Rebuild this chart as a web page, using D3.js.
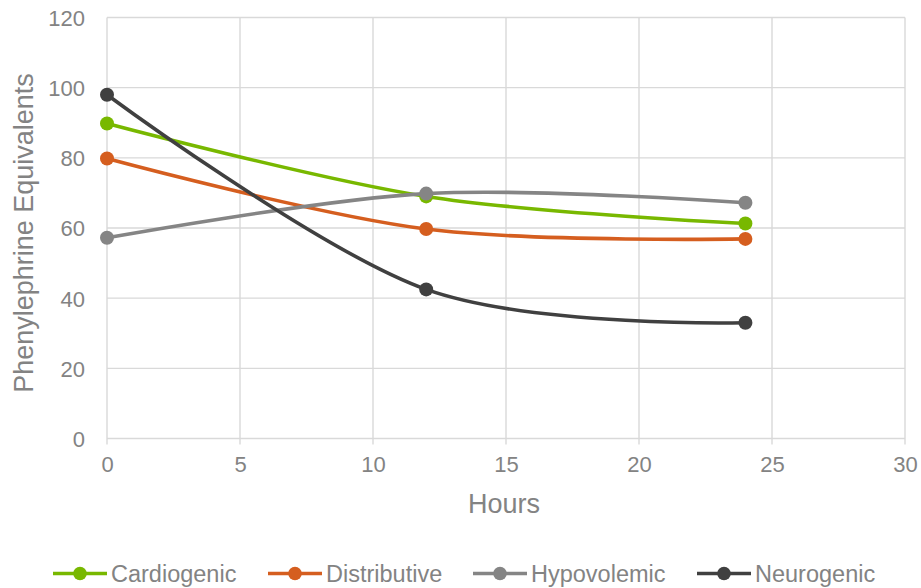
<!DOCTYPE html>
<html>
<head>
<meta charset="utf-8">
<script src="https://cdn.jsdelivr.net/npm/d3@7"></script>
<style>
  html, body { margin: 0; padding: 0; background: #fff; }
  svg { display: block; font-family: "Liberation Sans", Arial, sans-serif; }
</style>
</head>
<body>
<svg id="chart" width="921" height="588"></svg>
<script>
// Vasopressor requirement by shock type over time
const hours = [0, 12, 24];
const cardiogenic = [89.8, 69.0, 61.3];
const distributive = [79.8, 59.7, 56.9];
const hypovolemic = [57.2, 69.8, 67.2];
const neurogenic = [98.0, 42.5, 33.0];

const seriesNames = ["Cardiogenic", "Distributive", "Hypovolemic", "Neurogenic"];
const seriesValues = [cardiogenic, distributive, hypovolemic, neurogenic];
const seriesColors = ["#78b800", "#d55e1f", "#858585", "#404040"];

const xTicks = [0, 5, 10, 15, 20, 25, 30];
const yTicks = [0, 20, 40, 60, 80, 100, 120];

const svg = d3.select("#chart");
const plotLeft = 107, plotRight = 905, plotTop = 17.5, plotBottom = 438.5;

const x = d3.scaleLinear().domain([0, 30]).range([plotLeft, plotRight]);
const y = d3.scaleLinear().domain([0, 120]).range([plotBottom, plotTop]);

const gridColor = "#d9d9d9";
const textColor = "#838383";

// gridlines
svg.append("g").selectAll("line").data(yTicks).join("line")
  .attr("x1", plotLeft).attr("x2", plotRight)
  .attr("y1", d => y(d)).attr("y2", d => y(d))
  .attr("stroke", gridColor).attr("stroke-width", 1.4);
svg.append("g").selectAll("line").data(xTicks).join("line")
  .attr("x1", d => x(d)).attr("x2", d => x(d))
  .attr("y1", plotTop).attr("y2", plotBottom + 6)
  .attr("stroke", gridColor).attr("stroke-width", 1.4);

// axes with labels
const yAxis = svg.append("g").attr("transform", `translate(${plotLeft},0)`)
  .call(d3.axisLeft(y).tickValues(yTicks).tickSize(0).tickPadding(22));
const xAxis = svg.append("g").attr("transform", `translate(0,${plotBottom})`)
  .call(d3.axisBottom(x).tickValues(xTicks).tickSize(0).tickPadding(18));
[yAxis, xAxis].forEach(a => {
  a.select(".domain").remove();
  a.selectAll("text").attr("fill", textColor)
    .style("font-size", "22px").style("font-family", "Liberation Sans, Arial, sans-serif");
});
yAxis.selectAll("text").attr("dy", "0.36em");
xAxis.selectAll("text").attr("dy", "0.71em");

// axis titles
svg.append("text")
  .attr("x", 504).attr("y", 513)
  .attr("text-anchor", "middle")
  .attr("fill", textColor).style("font-size", "27px")
  .text("Hours");
svg.append("text")
  .attr("transform", `translate(33,233) rotate(-90)`)
  .attr("text-anchor", "middle")
  .attr("fill", textColor).style("font-size", "27px")
  .text("Phenylephrine Equivalents");

// smoothed lines and markers
const line = d3.line()
  .x((d, i) => x(hours[i]))
  .y(d => y(d))
  .curve(d3.curveCatmullRom.alpha(0));

seriesValues.forEach((vals, k) => {
  const g = svg.append("g");
  g.append("path").datum(vals)
    .attr("d", line)
    .attr("fill", "none")
    .attr("stroke", seriesColors[k])
    .attr("stroke-width", 3.6)
    .attr("stroke-linecap", "round");
  g.selectAll("circle").data(vals).join("circle")
    .attr("cx", (d, i) => x(hours[i]))
    .attr("cy", d => y(d))
    .attr("r", 7)
    .attr("fill", seriesColors[k]);
});

// legend
const legendX = [53, 268, 473, 697];
const legend = svg.append("g");
seriesNames.forEach((name, k) => {
  const lx = legendX[k], ly = 573.5;
  legend.append("line")
    .attr("x1", lx).attr("x2", lx + 54)
    .attr("y1", ly).attr("y2", ly)
    .attr("stroke", seriesColors[k]).attr("stroke-width", 3.6);
  legend.append("circle")
    .attr("cx", lx + 27).attr("cy", ly).attr("r", 6.8)
    .attr("fill", seriesColors[k]);
  legend.append("text")
    .attr("x", lx + 58).attr("y", ly + 8.5)
    .attr("fill", textColor).style("font-size", "23.5px")
    .text(name);
});
</script>
</body>
</html>
